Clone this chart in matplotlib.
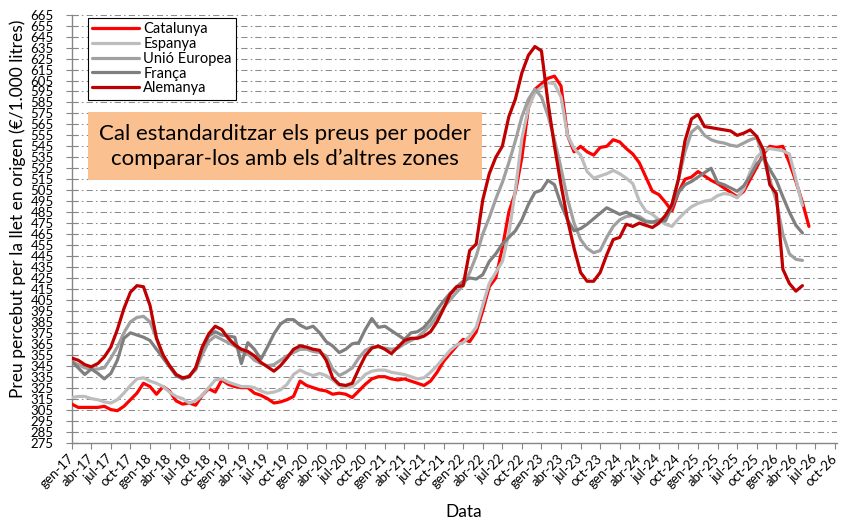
import matplotlib.pyplot as plt
from matplotlib.patches import Rectangle

plt.rcParams["font.family"] = ["Lato", "DejaVu Sans"]

# preu mensual en origen (EUR / 1.000 l), primer valor = gen-17
catalunya = [
    310, 307, 307, 307, 307, 308, 305, 304, 308, 314, 320, 329,
    326, 319, 326, 322, 313, 310, 311, 309, 318, 324, 321, 332,
    328, 326, 325, 325, 320, 318, 315, 311, 312, 314, 317, 331,
    327, 325, 323, 322, 319, 320, 319, 316, 322, 328, 333, 335,
    335, 333, 332, 333, 331, 329, 327, 331, 339, 349, 356, 363,
    369, 367, 376, 395, 417, 425, 452, 485, 503, 535, 580, 597,
    602, 607, 609, 600, 555, 540, 545, 540, 537, 544, 545, 551,
    549, 543, 538, 530, 517, 504, 501, 494, 486, 503, 515, 517,
    522, 518, 514, 511, 507, 503, 499, 504, 515, 526, 538, 545,
    544, 545, 530, 513, 494, 472,
]
espanya = [
    316, 317, 317, 315, 314, 312, 311, 314, 320, 327, 333, 334,
    331, 329, 326, 321, 317, 315, 311, 313, 318, 325, 332, 333,
    330, 328, 326, 326, 325, 322, 320, 321, 323, 328, 337, 341,
    338, 336, 338, 336, 332, 327, 325, 326, 331, 337, 340, 341,
    341, 339, 338, 337, 335, 333, 334, 339, 345, 352, 359, 364,
    366, 372, 380, 400, 420, 430, 440, 465, 505, 552, 580, 594,
    599, 603, 602, 590, 555, 543, 537, 522, 516, 518, 520, 523,
    520, 516, 511, 495, 486, 483, 478, 474, 472, 479, 485, 490,
    493, 495, 496, 500, 502, 501, 498, 506, 522, 535, 541, 543,
    542, 541, 538, 515, 491,
]
unio_europea = [
    349, 346, 343, 342, 342, 343, 352, 362, 375, 385, 389, 390,
    385, 370, 353, 345, 337, 333, 336, 341, 355, 367, 372, 369,
    366, 363, 358, 356, 350, 347, 345, 346, 350, 354, 357, 360,
    360, 358, 357, 354, 342, 336, 339, 343, 352, 359, 362, 362,
    361, 360, 361, 365, 368, 371, 376, 382, 390, 398, 405, 412,
    418, 430, 445, 465, 480, 497, 512, 530, 550, 572, 588, 597,
    590, 573, 551, 525, 497, 475, 460, 452, 448, 450, 462, 472,
    478, 481, 482, 481, 477, 476, 478, 479, 492, 515, 540, 558,
    563, 555, 551, 549, 548, 546, 545, 548, 551, 553, 535, 515,
    495, 465, 447, 442, 441,
]
franca = [
    349, 343, 337, 342, 338, 333, 338, 350, 370, 375, 373, 371,
    368, 360, 352, 344, 336, 333, 335, 343, 360, 372, 376, 373,
    372, 371, 347, 366, 360, 351, 362, 374, 383, 387, 387, 382,
    379, 381, 375, 367, 363, 357, 360, 365, 366, 378, 388, 380,
    381, 377, 373, 369, 375, 376, 380, 387, 396, 404, 411, 417,
    422, 425, 424, 428, 440, 447, 456, 462, 468, 478, 492, 503,
    505, 514, 510, 492, 478, 468, 470, 474, 479, 484, 489, 486,
    483, 485, 482, 479, 476, 476, 477, 477, 490, 503, 510, 513,
    517, 521, 525, 512, 510, 507, 504, 509, 518, 529, 535, 524,
    514, 499, 485, 473, 466,
]
alemanya = [
    352, 350, 346, 344, 347, 353, 362, 378, 397, 412, 418, 417,
    400, 370, 355, 345, 337, 334, 335, 343, 362, 374, 381, 378,
    370, 364, 360, 358, 354, 348, 344, 340, 345, 352, 360, 363,
    362, 360, 359, 350, 334, 328, 327, 329, 342, 354, 361, 363,
    360, 356, 362, 368, 370, 370, 372, 376, 385, 397, 410, 417,
    418, 450, 456, 496, 520, 535, 545, 572, 588, 612, 628, 636,
    632, 585, 545, 510, 478, 452, 430, 422, 422, 430, 446, 460,
    462, 474, 472, 475, 473, 471, 475, 482, 492, 515, 550, 570,
    574, 563, 562, 561, 560, 559, 555, 557, 560, 554, 542, 510,
    502, 433, 420, 413, 418,
]

series = [
    ("Catalunya", catalunya, "#FF0000"),
    ("Espanya", espanya, "#BDBDBD"),
    ("Unió Europea", unio_europea, "#A0A0A0"),
    ("França", franca, "#7F7F7F"),
    ("Alemanya", alemanya, "#C00000"),
]

mesos = ["gen", "abr", "jul", "oct"]
tick_pos = list(range(0, 118, 3))
tick_lbl = [f"{mesos[(k // 3) % 4]}-{17 + k // 12}" for k in tick_pos]
y_ticks = list(range(275, 666, 10))

W, H = 845, 522
fig = plt.figure(figsize=(W / 100, H / 100), dpi=100)
ax = fig.add_axes([71.7 / W, 1 - 442.5 / H, 765.3 / W, 427.8 / H])

for name, vals, col in series:
    ax.plot(range(len(vals)), vals, color=col, lw=2.3, label=name,
            solid_joinstyle="round", solid_capstyle="round", zorder=3)

ax.set_xlim(0, 117.3)
ax.set_ylim(275, 665)
ax.set_yticks(y_ticks)
ax.set_yticklabels([str(v) for v in y_ticks])
ax.set_xticks(tick_pos)
ax.set_xticklabels(tick_lbl, rotation=45, ha="right", va="center",
                   rotation_mode="anchor")

ax.grid(True, axis="y", color="#8C8C8C", lw=0.75,
        linestyle=(0, (6, 3, 1.5, 3)), zorder=1)
ax.set_axisbelow(True)

for s in ("top", "right"):
    ax.spines[s].set_visible(False)
for s in ("left", "bottom"):
    ax.spines[s].set_color("#868686")
    ax.spines[s].set_linewidth(1.0)

ax.tick_params(axis="y", direction="inout", length=8, width=0.8,
               color="#868686", labelsize=9.5, pad=9)
ax.tick_params(axis="x", direction="out", length=4, width=0.8,
               color="#868686", labelsize=9.5, pad=6)

fig.text(18 / W, 1 - 209 / H,
         "Preu percebut per la llet en origen (€/1.000 litres)",
         rotation=90, ha="center", va="center", fontsize=12.5)
fig.text(464 / W, 1 - 512 / H, "Data", ha="center", va="center",
         fontsize=12.5)

# requadre amb el missatge
ax.add_patch(Rectangle((88 / W, 1 - 180 / H), 394 / W, 68 / H,
                       transform=fig.transFigure, facecolor="#FAC090",
                       edgecolor="none", zorder=4))
fig.text(285 / W, 1 - 146.5 / H,
         "Cal estandarditzar els preus per poder\ncomparar-los amb els d’altres zones",
         ha="center", va="center", fontsize=16, linespacing=1.3, zorder=5)

leg = ax.legend(loc="upper left", bbox_to_anchor=(88 / W, 1 - 18 / H),
                bbox_transform=fig.transFigure, borderaxespad=0,
                fontsize=10.5, handlelength=3.2, handletextpad=0.3,
                labelspacing=0.05, borderpad=0.3, fancybox=False,
                framealpha=1, edgecolor="black")
leg.get_frame().set_linewidth(0.8)
leg.set_zorder(6)

fig.savefig("out.png", dpi=100)
